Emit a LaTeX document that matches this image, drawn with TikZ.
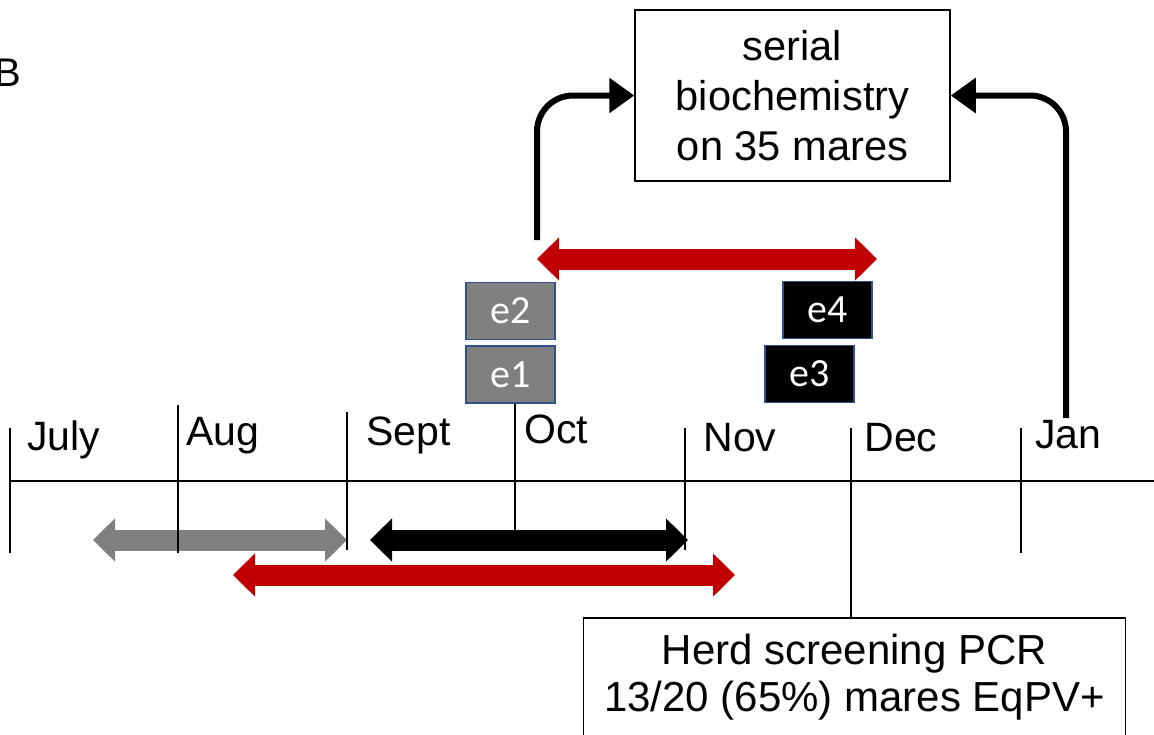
\documentclass[tikz,border=0pt]{standalone}
\usepackage{fontspec}
\setmainfont{Liberation Sans}
\newfontfamily\calib{Carlito}
\usetikzlibrary{arrows.meta}
\definecolor{darkred}{HTML}{C00000}
\definecolor{midgray}{HTML}{808080}
\definecolor{edgeblue}{HTML}{2F528F}
\begin{document}
\begin{tikzpicture}[x=0.5pt,y=-0.5pt,
  tick/.style={line width=0.75pt},
  month/.style={anchor=base west, inner sep=0, font=\fontsize{20.5}{24}\selectfont},
  ebox/.style={draw=edgeblue, line width=0.7pt, minimum width=44.5pt, minimum height=28.5pt, inner sep=0, text=white, font=\calib\fontsize{20}{22}\selectfont},
  span/.style={line width=10.5pt, {Triangle[width=21pt,length=11pt]}-{Triangle[width=21pt,length=11pt]}},
  feed/.style={line width=3pt, rounded corners=18pt, -{Triangle[width=17pt,length=12.5pt]}},
  textbox/.style={draw, line width=0.75pt, align=center},
]
\useasboundingbox (0,0) rectangle (1154,734);
\clip (0,0) rectangle (1154,734);

% panel letter
\node[anchor=base west, inner sep=0, font=\fontsize{20}{24}\selectfont] (lbl) at (-6,86) {B};

% boxes
\node[textbox, minimum width=157.5pt, minimum height=85.5pt, font=\fontsize{20.8}{25}\selectfont] (bio) at (792.5,95.5) {serial\\biochemistry\\on 35 mares};
\node[textbox, anchor=north, minimum width=271pt, inner sep=0, text height=47pt, text depth=60pt, font=\fontsize{21}{23.5}\selectfont] (pcr) at (854.5,617) {Herd screening PCR\\13/20 (65\%) mares EqPV+};

% span arrows
\coordinate (rt1) at (537,259); \coordinate (rt2) at (877,259);
\coordinate (g1) at (93,540);   \coordinate (g2) at (347,540);
\coordinate (k1) at (370,540);  \coordinate (k2) at (688,540);
\coordinate (rl1) at (233,575); \coordinate (rl2) at (735,575);
\draw[span, darkred] (rt1) -- (rt2);
\draw[span, midgray] (g1) -- (g2);
\draw[span, black] (k1) -- (k2);
\draw[span, darkred] (rl1) -- (rl2);

% timeline
\coordinate (t0) at (10,481); \coordinate (t1) at (1154,481);
\draw[tick] (t0) -- (t1);
\coordinate (jul1) at (10,428);   \coordinate (jul2) at (10,553);
\coordinate (aug1) at (178,405);  \coordinate (aug2) at (178,553);
\coordinate (sep1) at (347,412);  \coordinate (sep2) at (347,550);
\coordinate (oct1) at (515,404);  \coordinate (oct2) at (515,550);
\coordinate (nov1) at (685,428);  \coordinate (nov2) at (685,550);
\coordinate (jan1) at (1021,428); \coordinate (jan2) at (1021,553);
\coordinate (dec1) at (851,428);
\draw[tick] (jul1) -- (jul2);
\draw[tick] (aug1) -- (aug2);
\draw[tick] (sep1) -- (sep2);
\draw[tick] (oct1) -- (oct2);
\draw[tick] (nov1) -- (nov2);
\draw[tick] (jan1) -- (jan2);
\draw[line width=1.25pt] (dec1) -- (dec1 |- pcr.north);

% month labels
\node[month] (mjul) at (27,450) {July};
\node[month] (maug) at (186,445) {Aug};
\node[month] (msep) at (366,445) {Sept};
\node[month] (moct) at (524,443) {Oct};
\node[month] (mnov) at (703,451) {Nov};
\node[month] (mdec) at (864,451) {Dec};
\node[month] (mjan) at (1035,448) {Jan};

% event boxes
\node[ebox, fill=midgray] (e2) at (510.5,311) {e2};
\node[ebox, fill=midgray] (e1) at (510.5,374.5) {e1};
\node[ebox, fill=black] (e4) at (827.5,310) {e4};
\node[ebox, fill=black] (e3) at (809.5,374) {e3};

% feedback arrows to biochemistry box
\coordinate (ls) at (537,240);
\coordinate (rs) at (1066,418);
\draw[feed] (ls) |- (bio.west);
\draw[feed] (rs) |- (bio.east);
\end{tikzpicture}
\end{document}
